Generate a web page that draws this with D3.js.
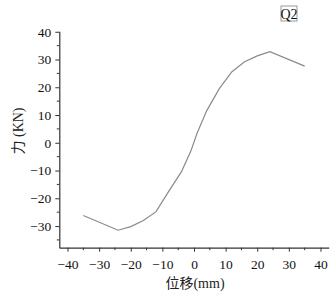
<!DOCTYPE html>
<html><head><meta charset="utf-8">
<script src="https://cdn.jsdelivr.net/npm/d3@7"></script>
<style>body{margin:0;background:#fff}svg{display:block}</style>
</head><body>
<script>
const displacement = [-35, -24, -20, -16, -12, -8, -4, -1, 1, 4, 8, 12, 16, 20, 24, 35];
const force = [-26.2, -31.5, -30.2, -28, -24.8, -17.5, -10.5, -3, 3.5, 11.5, 19.5, 25.6, 29.2, 31.3, 32.8, 27.6];
const xTicks = [-40, -30, -20, -10, 0, 10, 20, 30, 40];
const yTicks = [-30, -20, -10, 0, 10, 20, 30, 40];
const xLabel = "位移(mm)";
const yLabel = "力 (KN)";
const legendLabel = "Q2";

const W = 330, H = 292;
const svg = d3.select("body").append("svg").attr("width", W).attr("height", H);
const x = d3.scaleLinear().domain([-42.6, 42.6]).range([59.3, 328.7]);
const y = d3.scaleLinear().domain([-37.8, 40.2]).range([247.7, 31.2]);
const serif = "'Liberation Serif','Times New Roman',serif";

const minorX = d3.range(-40, 41, 5).filter(v => v % 10 !== 0);
const minorY = d3.range(-35, 41, 5).filter(v => v % 10 !== 0);

function styleAxis(g) {
  g.selectAll(".domain").attr("stroke", "#333").attr("stroke-width", 1.2);
  g.selectAll(".tick line").attr("stroke", "#333");
  g.selectAll("text").attr("font-family", serif).attr("font-size", 13.5).attr("fill", "#111");
}

const gx = svg.append("g").attr("transform", `translate(0,${y.range()[0]})`)
  .call(d3.axisBottom(x).tickValues(xTicks).tickSize(4).tickSizeOuter(0).tickPadding(8));
styleAxis(gx);
gx.selectAll(".minor").data(minorX).enter().append("line")
  .attr("x1", d => x(d)).attr("x2", d => x(d)).attr("y1", 0).attr("y2", 2.5).attr("stroke", "#333");

const gy = svg.append("g").attr("transform", `translate(${x.range()[0]},0)`)
  .call(d3.axisLeft(y).tickValues(yTicks).tickSize(4).tickSizeOuter(0).tickPadding(4));
styleAxis(gy);
gy.selectAll(".minor").data(minorY).enter().append("line")
  .attr("x1", 0).attr("x2", -2.5).attr("y1", d => y(d)).attr("y2", d => y(d)).attr("stroke", "#333");

const pts = displacement.map((d, i) => [d, force[i]]);
svg.append("path").datum(pts)
  .attr("fill", "none").attr("stroke", "#8a8a8a").attr("stroke-width", 1.2)
  .attr("d", d3.line().x(d => x(d[0])).y(d => y(d[1])));

svg.append("text").attr("x", 195).attr("y", 288).attr("text-anchor", "middle")
  .attr("font-family", serif + ",'Noto Sans CJK SC'").attr("font-size", 14).attr("fill", "#222").text(xLabel);
svg.append("text").attr("transform", "translate(23,131) rotate(-90)").attr("text-anchor", "middle")
  .attr("font-family", serif + ",'Noto Sans CJK SC'").attr("font-size", 14).attr("fill", "#222").text(yLabel);

const lg = svg.append("g");
lg.append("rect").attr("x", 281).attr("y", 6).attr("width", 16).attr("height", 15)
  .attr("fill", "#fff").attr("stroke", "#999");
lg.append("text").attr("x", 289).attr("y", 18.8).attr("text-anchor", "middle")
  .attr("font-family", serif).attr("font-size", 14).attr("fill", "#111").text(legendLabel);
</script>
</body></html>
